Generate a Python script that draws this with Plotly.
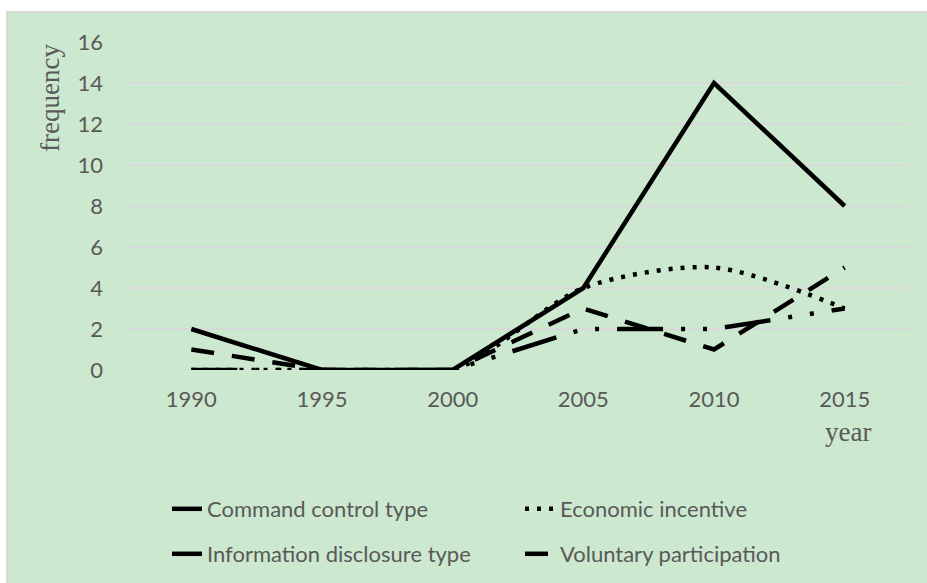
import plotly.graph_objects as go

years = ["1990", "1995", "2000", "2005", "2010", "2015"]
command_control = [2, 0, 0, 4, 14, 8]
economic_incentive = [0, 0, 0, 4, 5, 3]
information_disclosure = [0, 0, 0, 2, 2, 3]
voluntary_participation = [1, 0, 0, 3, 1, 5]
y_ticks = [0, 2, 4, 6, 8, 10, 12, 14, 16]

GREEN = "#CCE8CF"
TXT = "#595959"
FONT = "Lato, Carlito, 'Open Sans', sans-serif"
SERIF = "'Liberation Serif', 'DejaVu Serif', serif"
LW = 4.5
FS = 22

fig = go.Figure()
fig.add_trace(go.Scatter(x=years, y=command_control, name="Command control type",
                         mode="lines", line=dict(color="black", width=LW), legend="legend"))
fig.add_trace(go.Scatter(x=years, y=economic_incentive, name="Economic incentive",
                         mode="lines", line=dict(color="black", width=LW, dash="4px,8px",
                                                 shape="spline", smoothing=0.8), legend="legend"))
fig.add_trace(go.Scatter(x=years, y=information_disclosure, name="Information disclosure type",
                         mode="lines", line=dict(color="black", width=LW,
                                                 dash="46px,18px,4px,18px,4px,18px"), legend="legend2"))
fig.add_trace(go.Scatter(x=years, y=voluntary_participation, name="Voluntary participation",
                         mode="lines", line=dict(color="black", width=LW, dash="23px,18px"),
                         legend="legend2"))

L, R, T, B = 126, 17, 42, 213
W, H = 927, 583
pw, ph = W - L - R, H - T - B

def px(x):
    return (x - L) / pw

def py(y):
    return (H - B - y) / ph

fig.update_layout(
    width=W, height=H,
    margin=dict(l=L, r=R, t=T, b=B, autoexpand=False),
    paper_bgcolor="white",
    plot_bgcolor=GREEN,
    font=dict(family=FONT, color=TXT, size=FS),
    xaxis=dict(type="category", range=[-0.5, 5.5], showgrid=False, zeroline=False,
               showline=False, ticks="", ticklabelstandoff=14,
               tickfont=dict(size=FS, color=TXT)),
    yaxis=dict(range=[0, 16], tickvals=y_ticks, showgrid=True, gridcolor="#D9D9D9",
               gridwidth=1.5, zeroline=False, showline=False, ticks="",
               ticklabelstandoff=22, tickfont=dict(size=FS, color=TXT)),
    legend=dict(orientation="h", x=px(167), y=py(509), yanchor="middle", xanchor="left",
                bgcolor="rgba(0,0,0,0)", entrywidth=308, entrywidthmode="pixels",
                font=dict(size=FS, color=TXT), itemwidth=30),
    legend2=dict(orientation="h", x=px(167), y=py(554), yanchor="middle", xanchor="left",
                 bgcolor="rgba(0,0,0,0)", entrywidth=308, entrywidthmode="pixels",
                 font=dict(size=FS, color=TXT), itemwidth=30),
    shapes=[dict(type="rect", xref="paper", yref="paper", layer="below",
                 x0=px(7), x1=px(940), y0=py(600), y1=py(12),
                 fillcolor=GREEN, line=dict(color="#D9D9D9", width=2))],
    annotations=[
        dict(text="frequency", xref="paper", yref="paper", x=px(50), y=py(98),
             showarrow=False, textangle=-90, font=dict(family=SERIF, size=27, color=TXT),
             xanchor="center", yanchor="middle"),
        dict(text="year", xref="paper", yref="paper", x=px(848), y=py(432),
             showarrow=False, font=dict(family=SERIF, size=27, color=TXT),
             xanchor="center", yanchor="middle"),
    ],
)

fig.write_html("out.html")
